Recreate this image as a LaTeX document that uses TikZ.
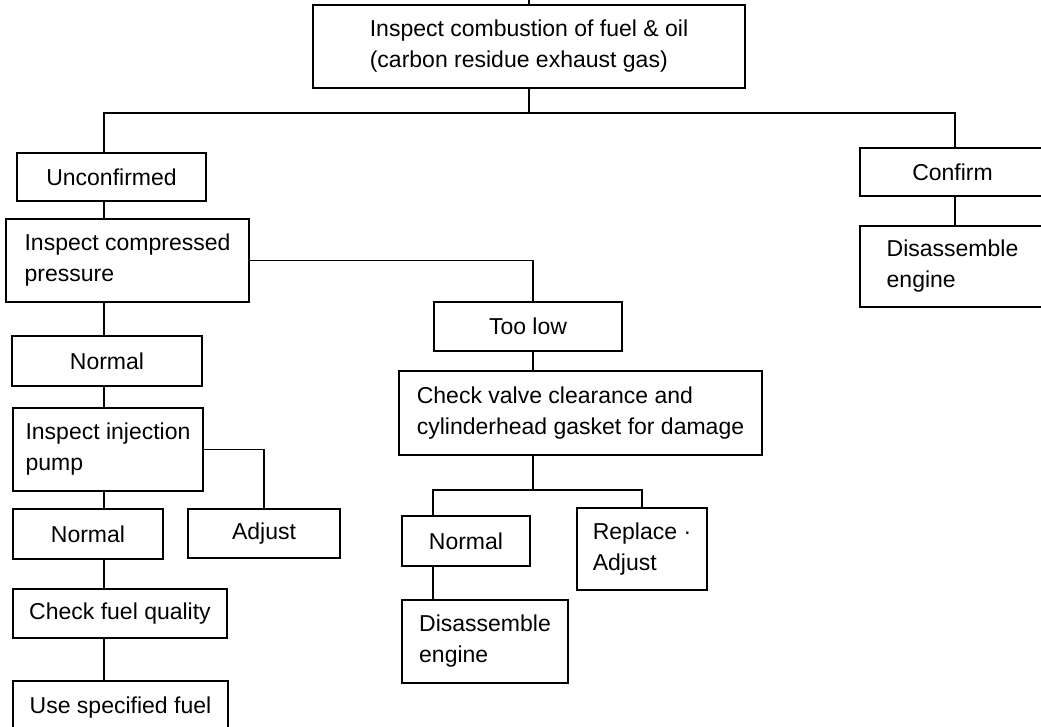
\documentclass[tikz,border=0pt]{standalone}
\usepackage{fontspec}
\setmainfont{Liberation Sans}
\usepackage{tikz}

\begin{document}
\begin{tikzpicture}[x=1pt,y=-1pt,
	box/.style={draw,line width=1.6pt,inner sep=0pt,align=left,font=\fontsize{23}{31}\selectfont},
	link/.style={line width=1.6pt}]
		\useasboundingbox (0,0) rectangle (1041,726);
		%Spines and buses of the connectors
		\coordinate (entry) at (529,0);
		\coordinate (bus) at (0,113);
		\coordinate (bus2) at (0,490);
		\coordinate (spine) at (104,0);
		\coordinate (rspine) at (955,0);
		\coordinate (vspine) at (533,0);
		\coordinate (mspine) at (433,0);
		%Top box
		\node[box,minimum width=432pt,minimum height=83pt] (top) at (529,46.5) {Inspect combustion of fuel \& oil\\(carbon residue exhaust gas)};
		%Left branch
		\node[box,minimum width=189pt,minimum height=48pt] (unconf) at (111.5,177) {Unconfirmed};
		\node[box,minimum width=243pt,minimum height=83pt] (cpress) at (127.5,260.5) {Inspect compressed\\pressure};
		\node[box,minimum width=190pt,minimum height=50pt] (normal1) at (107,361) {Normal};
		\node[box,minimum width=190pt,minimum height=83pt] (injp) at (108,449.5) {Inspect injection\\pump};
		\node[box,minimum width=150pt,minimum height=50pt] (normal2) at (88,534) {Normal};
		\node[box,minimum width=152pt,minimum height=49pt] (adjust) at (264,533.5) {Adjust};
		\node[box,minimum width=214pt,minimum height=49pt] (chkfuel) at (120,613.5) {Check fuel quality};
		\node[box,minimum width=215pt,minimum height=54pt] (usefuel) at (120.5,708) {Use specified fuel};
		%Middle branch
		\node[box,minimum width=188pt,minimum height=49pt] (toolow) at (528,326.5) {Too low};
		\node[box,minimum width=363pt,minimum height=84pt] (chkvalve) at (580.5,413) {Check valve clearance and\\cylinderhead gasket for damage};
		\node[box,minimum width=128pt,minimum height=50pt] (mnormal) at (466,541) {Normal};
		\node[box,minimum width=130pt,minimum height=82pt] (replace) at (642,549) {Replace ·\\Adjust};
		\node[box,minimum width=166pt,minimum height=83pt] (mdis) at (485,641.5) {Disassemble\\engine};
		%Right branch
		\node[box,minimum width=185pt,minimum height=48pt] (confirm) at (952.5,172) {Confirm};
		\node[box,minimum width=185pt,minimum height=81pt] (rdis) at (952.5,266.5) {Disassemble\\engine};
		%Connectors
		\draw[link] (entry) -- (top.north);
		\draw[link] (top.south) -- (top.south |- bus);
		\draw[link] (unconf.north -| spine) -- (spine |- bus) -- (rspine |- bus) -- (confirm.north -| rspine);
		\draw[link] (confirm.south -| rspine) -- (rdis.north -| rspine);
		\draw[link] (unconf.south -| spine) -- (cpress.north -| spine);
		\draw[link] (cpress.south -| spine) -- (normal1.north -| spine);
		\draw[link] (normal1.south -| spine) -- (injp.north -| spine);
		\draw[link] (injp.south -| spine) -- (normal2.north -| spine);
		\draw[link] (normal2.south -| spine) -- (chkfuel.north -| spine);
		\draw[link] (chkfuel.south -| spine) -- (usefuel.north -| spine);
		\draw[link] (injp.east) -| (adjust.north);
		\draw[link] (cpress.east) -- (cpress.east -| vspine) -- (toolow.north -| vspine);
		\draw[link] (toolow.south -| vspine) -- (chkvalve.north -| vspine);
		\draw[link] (chkvalve.south -| vspine) -- (vspine |- bus2);
		\draw[link] (mnormal.north -| mspine) -- (mspine |- bus2) -| (replace.north);
		\draw[link] (mnormal.south -| mspine) -- (mdis.north -| mspine);
\end{tikzpicture}
\end{document}
